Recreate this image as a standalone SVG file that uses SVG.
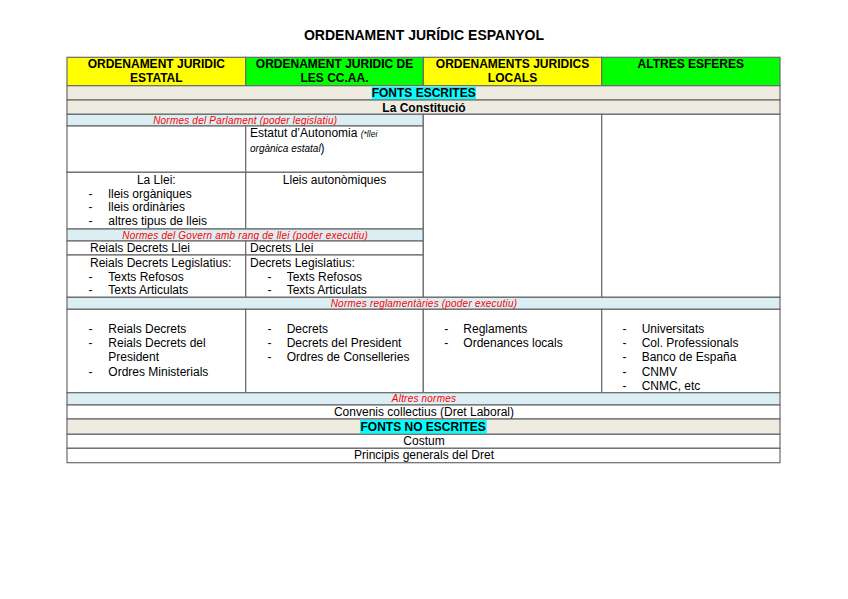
<svg xmlns="http://www.w3.org/2000/svg" width="848" height="599" viewBox="0 0 848 599">
<style>
text{font-family:"Liberation Sans",Arial,sans-serif;fill:#000;font-size:12px}
.b{font-weight:bold}
.c{text-anchor:middle}
.r{fill:#ff0000;font-style:italic;font-size:10px;letter-spacing:0.2px}
.i{font-style:italic;font-size:10px}
.cell{stroke:#6a6a6a;stroke-width:1.2}
.y{fill:#ffff00}.g{fill:#00ff00}.be{fill:#eeece1}.lb{fill:#daeef3}.w{fill:#ffffff}.cy{fill:#00ffff}
</style>
<rect width="848" height="599" fill="#fff"/>
<text id="title" class="b c" x="424" y="40" style="font-size:14px">ORDENAMENT JURÍDIC ESPANYOL</text>

<g id="header1"><rect class="cell y" x="67" y="57.3" width="178.7" height="28.4"/><text class="b c" x="156.3" y="68">ORDENAMENT JURIDIC</text><text class="b c" x="156.3" y="82">ESTATAL</text></g>
<g id="header2"><rect class="cell g" x="245.7" y="57.3" width="177.6" height="28.4"/><text class="b c" x="334.5" y="68">ORDENAMENT JURIDIC DE</text><text class="b c" x="334.5" y="82">LES CC.AA.</text></g>
<g id="header3"><rect class="cell y" x="423.3" y="57.3" width="178.4" height="28.4"/><text class="b c" x="512.5" y="68">ORDENAMENTS JURIDICS</text><text class="b c" x="512.5" y="82">LOCALS</text></g>
<g id="header4"><rect class="cell g" x="601.7" y="57.3" width="178.3" height="28.4"/><text class="b c" x="690.8" y="68">ALTRES ESFERES</text></g>

<g id="fonts-escrites"><rect class="cell be" x="67" y="85.7" width="713" height="14.3"/><rect class="cy" x="371.7" y="87" width="104.3" height="12.3"/><text class="b" x="371.7" y="96.7">FONTS ESCRITES</text></g>
<g id="constitucio"><rect class="cell be" x="67" y="100" width="713" height="14.3"/><text class="b c" x="424" y="111.5">La Constitució</text></g>

<g id="normes-parlament"><rect class="cell lb" x="67" y="114.3" width="356.3" height="11.7"/><text class="r c" x="245.2" y="124">Normes del Parlament (poder legislatiu)</text></g>
<g id="estatal-buit"><rect class="cell w" x="67" y="126" width="178.7" height="46.3"/></g>
<g id="estatut"><rect class="cell w" x="245.7" y="126" width="177.6" height="46.3"/><text x="250" y="137">Estatut d’Autonomia <tspan class="i" style="font-size:8.5px">(*llei</tspan></text><text x="250" y="152"><tspan class="i">orgànica estatal</tspan>)</text></g>
<g id="llei"><rect class="cell w" x="67" y="172.3" width="178.7" height="56.7"/><text class="c" x="156.3" y="184">La Llei:</text>
<text x="88.5" y="197.5">-</text><text x="108.3" y="197.5">lleis orgàniques</text>
<text x="88.5" y="211">-</text><text x="108.3" y="211">lleis ordinàries</text>
<text x="88.5" y="224.7">-</text><text x="108.3" y="224.7">altres tipus de lleis</text></g>
<g id="lleis-autonomiques"><rect class="cell w" x="245.7" y="172.3" width="177.6" height="56.7"/><text class="c" x="334.5" y="184">Lleis autonòmiques</text></g>

<g id="normes-govern"><rect class="cell lb" x="67" y="229" width="356.3" height="12"/><text class="r c" x="245.2" y="239">Normes del Govern amb rang de llei (poder executiu)</text></g>
<g id="rdl"><rect class="cell w" x="67" y="241" width="178.7" height="14"/><text x="90" y="251.7">Reials Decrets Llei</text></g>
<g id="dl"><rect class="cell w" x="245.7" y="241" width="177.6" height="14"/><text x="250" y="251.7">Decrets Llei</text></g>
<g id="rdleg"><rect class="cell w" x="67" y="255" width="178.7" height="42.3"/><text x="90" y="266.7">Reials Decrets Legislatius:</text>
<text x="88.5" y="280.7">-</text><text x="108.3" y="280.7">Texts Refosos</text>
<text x="88.5" y="294">-</text><text x="108.3" y="294">Texts Articulats</text></g>
<g id="dleg"><rect class="cell w" x="245.7" y="255" width="177.6" height="42.3"/><text x="250" y="266.7">Decrets Legislatius:</text>
<text x="267.5" y="280.7">-</text><text x="286.7" y="280.7">Texts Refosos</text>
<text x="267.5" y="294">-</text><text x="286.7" y="294">Texts Articulats</text></g>
<g id="locals-buit"><rect class="cell w" x="423.3" y="114.3" width="178.4" height="183"/></g>
<g id="altres-buit"><rect class="cell w" x="601.7" y="114.3" width="178.3" height="183"/></g>

<g id="normes-reglamentaries"><rect class="cell lb" x="67" y="297.3" width="713" height="12"/><text class="r c" x="424" y="307">Normes reglamentàries (poder executiu)</text></g>
<g id="regl-estatal"><rect class="cell w" x="67" y="309.3" width="178.7" height="83.4"/>
<text x="88.5" y="333.3">-</text><text x="108.3" y="333.3">Reials Decrets</text>
<text x="88.5" y="347.3">-</text><text x="108.3" y="347.3">Reials Decrets del</text>
<text x="108.3" y="361.3">President</text>
<text x="88.5" y="375.5">-</text><text x="108.3" y="375.5">Ordres Ministerials</text></g>
<g id="regl-ccaa"><rect class="cell w" x="245.7" y="309.3" width="177.6" height="83.4"/>
<text x="267.5" y="333.3">-</text><text x="286.7" y="333.3">Decrets</text>
<text x="267.5" y="347.3">-</text><text x="286.7" y="347.3">Decrets del President</text>
<text x="267.5" y="361.3">-</text><text x="286.7" y="361.3">Ordres de Conselleries</text></g>
<g id="regl-locals"><rect class="cell w" x="423.3" y="309.3" width="178.4" height="83.4"/>
<text x="444.3" y="333.3">-</text><text x="463.3" y="333.3">Reglaments</text>
<text x="444.3" y="347.3">-</text><text x="463.3" y="347.3">Ordenances locals</text></g>
<g id="regl-altres"><rect class="cell w" x="601.7" y="309.3" width="178.3" height="83.4"/>
<text x="622.5" y="333.3">-</text><text x="641.7" y="333.3">Universitats</text>
<text x="622.5" y="347.3">-</text><text x="641.7" y="347.3">Col. Professionals</text>
<text x="622.5" y="361.3">-</text><text x="641.7" y="361.3">Banco de España</text>
<text x="622.5" y="375.5">-</text><text x="641.7" y="375.5">CNMV</text>
<text x="622.5" y="389.5">-</text><text x="641.7" y="389.5">CNMC, etc</text></g>

<g id="altres-normes"><rect class="cell lb" x="67" y="392.7" width="713" height="12.3"/><text class="r c" x="424" y="402">Altres normes</text></g>
<g id="convenis"><rect class="cell w" x="67" y="405" width="713" height="14"/><text class="c" x="424" y="415.7">Convenis collectius (Dret Laboral)</text></g>
<g id="fonts-no-escrites"><rect class="cell be" x="67" y="419" width="713" height="15.3"/><rect class="cy" x="360" y="420" width="126.7" height="13.7"/><text class="b" x="360.5" y="431">FONTS NO ESCRITES</text></g>
<g id="costum"><rect class="cell w" x="67" y="434.3" width="713" height="14"/><text class="c" x="424" y="445">Costum</text></g>
<g id="principis"><rect class="cell w" x="67" y="448.3" width="713" height="14.4"/><text class="c" x="424" y="459">Principis generals del Dret</text></g>
<g id="connectors"/>
</svg>
